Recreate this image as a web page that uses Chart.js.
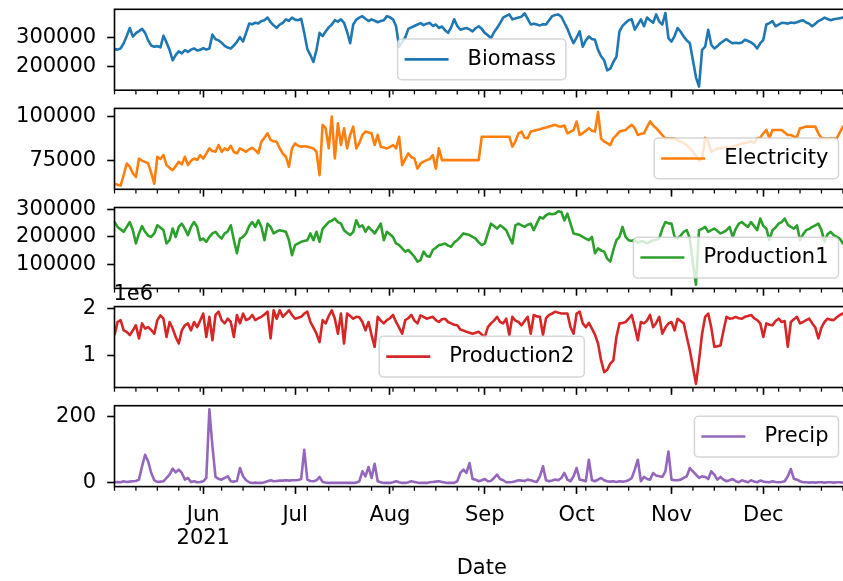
<!DOCTYPE html>
<html>
<head>
<meta charset="utf-8">
<script src="https://cdn.jsdelivr.net/npm/chart.js@4.4.1/dist/chart.umd.min.js"></script>
<style>
  html, body { margin: 0; padding: 0; background: #fff; overflow: hidden; }
  #wrap { position: relative; width: 843px; height: 581px; overflow: hidden; background: #fff; }
  #wrap canvas { position: absolute; left: 0; }
</style>
</head>
<body>
<div id="wrap"></div>
<script>
// daily index 0 = 2021-05-03 (Monday) ... 240 = 2021-12-29
const dayCount = 241;
const days = Array.from({ length: dayCount }, (_, i) => i);
const monthTicks = [29, 59, 90, 121, 151, 182, 212];
const monthLabels = [['Jun', '2021'], 'Jul', 'Aug', 'Sep', 'Oct', 'Nov', 'Dec'];
const weekTicks = days.filter(d => d % 7 === 0); // Mondays

// values in thousands
const biomassK = [
  260,258,262,280,305,333,303,315,322,330,
  316,290,272,268,270,266,306,283,257,221,
  239,252,245,256,250,258,262,255,257,263,
  258,262,310,294,290,282,271,265,262,272,
  285,301,286,316,348,346,351,349,357,360,
  369,353,342,333,345,351,363,358,369,362,
  360,365,316,260,239,215,257,316,305,321,
  335,345,360,355,363,351,320,280,345,362,
  369,374,365,357,363,358,353,357,360,374,
  370,363,339,268,285,300,330,335,340,345,
  350,343,348,351,340,345,333,338,325,316,
  335,363,340,327,330,333,328,321,332,339,
  330,316,308,298,318,333,350,369,375,380,
  363,366,369,372,384,365,345,348,345,342,
  346,345,360,374,378,380,372,351,330,303,
  280,300,321,268,290,303,295,292,257,235,
  221,186,192,215,233,321,340,351,360,363,
  327,345,363,339,369,360,351,380,355,345,
  385,298,286,305,333,320,303,290,280,221,
  162,130,257,268,327,275,262,270,280,288,
  294,286,280,282,280,283,292,288,283,275,
  262,280,292,345,350,357,339,345,351,350,
  348,352,350,353,357,360,352,348,339,348,
  357,362,369,364,360,363,365,367,369,366,
  370
];
const electricityK = [
  62,61.5,61,67,73.5,71.6,68,65.9,76.3,75,
  74.4,73.5,68,62.1,77.3,76,78.2,72.6,71,69.7,
  72,74.4,73,77.3,72.6,75,76.3,75.5,78.2,76.3,
  79,82,80.5,80.1,83.9,80.1,82,81,83.5,80,
  79.2,82,81,80.1,81.5,82.4,81,79.2,85.8,88,
  90.5,86.8,86,85.8,82,79,77.3,71.6,82,84.8,
  83.5,83,83.2,83,82.5,82,80.1,66.9,95.3,93.4,
  82,100,76.3,96.2,83.9,93.4,82,89.6,94.3,82,
  85,89.6,91.5,91,90.5,83.9,89.6,83,82.5,82,
  82.8,83.9,82,88.6,72.6,76,79.2,77,76.3,70.6,
  73.5,74.5,75.4,76,78.2,70.6,82,75.4,75.4,75.4,
  75.4,75.4,75.4,75.4,75.4,75.4,75.4,75.4,75.4,75.4,
  88.6,88.6,88.6,88.6,88.6,88.6,88.6,88.6,88.6,88.6,
  83,86,90.5,91.5,88,87.7,91.5,92,92.4,92.8,
  93.4,93.8,94.3,94.8,95.3,94.5,94.3,94.9,90.5,91.5,
  92.4,97.2,89.6,90.5,92,93.4,92,91.5,102.5,87.7,
  85.8,85,83.9,87.7,89.5,91.5,92,92.4,94,95.3,
  93.4,89.6,90.2,90.5,94,97.2,95,93.4,91.5,89.5,
  87.7,87.7,87.7,87.5,86.5,85.8,85,83.9,82,80,
  78,75,76,88,86,80,81,82,82,82.5,
  83,82,83,83.5,84,85,85,85.5,86,85,
  87.7,88,90.5,92.4,87.7,92.4,92.4,92.4,92.4,91,
  89.6,89.6,88.6,88.6,93.4,93.8,94.3,94.3,94.3,94.3,
  90.5,87.7,87.7,87.7,87.7,87.7,87.7,91,94.3,94.5,
  94
];
const production1K = [
  255,237,228,219,237,255,225,176,213,240,
  219,205,200,213,243,235,225,176,188,231,
  200,237,249,230,207,237,255,237,188,194,
  182,200,213,219,205,194,213,220,243,190,
  140,194,200,213,240,255,237,261,237,188,
  249,237,213,220,225,222,219,188,133,170,
  176,182,185,188,213,188,219,182,230,243,
  255,260,268,255,249,225,215,207,219,261,
  237,243,219,237,225,213,230,249,188,219,
  210,200,176,170,158,146,152,140,127,109,
  115,146,130,127,152,160,170,172,176,168,
  164,180,188,200,213,210,207,200,194,180,
  170,176,213,249,240,231,243,235,225,200,
  176,243,249,243,237,245,249,225,250,273,
  268,280,286,284,286,295,292,261,286,249,
  213,210,207,200,194,188,200,140,158,150,
  146,120,109,152,188,200,237,200,188,185,
  190,178,185,182,176,182,188,190,194,230,
  255,250,249,200,194,205,219,225,194,103,
  24,225,230,237,219,225,231,222,213,218,
  225,237,200,230,249,255,245,237,255,240,
  225,268,240,231,188,225,235,249,255,268,
  245,237,231,243,188,210,225,230,237,243,
  249,225,182,210,219,207,200,194,176,185,
  190
];
// values in millions
const production2M = [
  1.44,1.72,1.76,1.54,1.51,1.44,1.54,1.65,1.37,1.69,
  1.58,1.61,1.55,1.47,1.76,1.86,1.79,1.40,1.72,1.58,
  1.40,1.26,1.54,1.65,1.69,1.54,1.72,1.61,1.75,1.90,
  1.40,1.83,1.33,1.87,1.94,1.76,1.69,1.79,1.72,1.40,
  1.87,1.69,1.90,1.76,1.79,1.87,1.76,1.80,1.83,1.88,
  1.94,1.37,1.97,1.79,1.97,1.83,1.90,1.97,1.87,1.79,
  1.81,1.83,1.90,1.94,1.72,1.60,1.47,1.29,1.76,1.69,
  1.85,1.97,1.79,1.47,1.90,1.26,1.90,1.85,1.79,1.83,
  1.82,1.72,1.54,1.72,1.44,1.19,1.83,1.75,1.69,1.76,
  1.80,1.87,1.72,1.60,1.47,1.76,1.80,1.87,1.75,1.69,
  1.86,1.83,1.79,1.81,1.83,1.76,1.72,1.78,1.79,1.72,
  1.69,1.66,1.65,1.56,1.54,1.51,1.49,1.47,1.49,1.51,
  1.45,1.40,1.61,1.69,1.75,1.83,1.72,1.69,1.79,1.44,
  1.83,1.75,1.72,1.65,1.74,1.83,1.47,1.87,1.84,1.83,
  1.44,1.80,1.87,1.90,1.94,1.92,1.90,1.90,1.90,1.61,
  1.47,1.90,1.94,1.69,1.61,1.70,1.58,1.45,1.26,0.90,
  0.65,0.70,0.83,0.90,1.40,1.69,1.70,1.72,1.79,1.87,
  1.61,1.33,1.72,1.69,1.75,1.87,1.61,1.70,1.83,1.47,
  1.60,1.69,1.72,1.54,1.79,1.74,1.69,1.40,1.11,0.76,
  0.40,0.90,1.47,1.83,1.90,1.60,1.19,1.20,1.22,1.54,
  1.83,1.79,1.80,1.83,1.80,1.79,1.83,1.85,1.87,1.80,
  1.76,1.69,1.40,1.69,1.66,1.65,1.74,1.79,1.72,1.74,
  1.19,1.72,1.78,1.83,1.69,1.72,1.76,1.79,1.69,1.60,
  1.37,1.60,1.72,1.79,1.77,1.76,1.82,1.87,1.90,1.88,
  1.92
];
const precip = [
  2,3,2,5,3,4,5,6,10,50,
  85,65,30,8,3,4,5,15,25,43,
  32,40,30,10,15,3,5,2,3,5,
  15,222,110,18,12,10,15,20,5,4,
  6,45,20,8,2,0,1,0,0,2,
  5,8,5,6,7,7,8,7,8,8,
  9,12,100,10,6,5,8,18,3,1,
  0,0,0,0,0,0,0,0,0,1,
  5,35,20,48,15,58,5,2,0,0,
  0,2,5,2,0,0,2,5,3,1,
  0,0,0,2,3,4,5,3,1,0,
  0,0,5,30,40,30,60,12,10,5,
  8,12,5,6,15,25,12,8,2,2,
  3,5,8,7,6,10,8,5,3,20,
  50,8,5,7,10,8,15,30,10,5,
  20,45,10,8,5,70,8,5,10,15,
  8,5,4,5,3,5,4,5,8,15,
  40,70,5,18,12,10,30,22,20,18,
  35,95,10,8,8,10,15,20,45,35,
  25,15,20,18,12,35,25,10,18,10,
  5,8,12,5,2,8,5,2,8,4,
  2,7,4,3,2,5,3,2,3,5,
  20,42,12,10,5,2,2,1,2,1,
  2,2,1,2,2,1,2,2,1,2,
  2
];

const biomassTicks = [200000, 300000];
const electricityTicks = [75000, 100000];
const production1Ticks = [100000, 200000, 300000];
const production2Ticks = [1000000, 2000000];
const production2TickLabels = ['1', '2'];
const precipTicks = [0, 200];

const FONT_FAMILY = "'DejaVu Sans', sans-serif";
const FS = 21;
Chart.defaults.font.family = FONT_FAMILY;
Chart.defaults.color = '#000';

const panels = [
  { name: 'Biomass', color: '#1f77b4', values: biomassK.map(v => v * 1000), ticks: biomassTicks, loc: 'lower center' },
  { name: 'Electricity', color: '#ff7f0e', values: electricityK.map(v => v * 1000), ticks: electricityTicks, loc: 'lower right' },
  { name: 'Production1', color: '#2ca02c', values: production1K.map(v => v * 1000), ticks: production1Ticks, loc: 'lower right' },
  { name: 'Production2', color: '#d62728', values: production2M.map(v => v * 1e6), ticks: production2Ticks,
    tickLabels: production2TickLabels, offsetText: '1e6', loc: 'lower center' },
  { name: 'Precip', color: '#9467bd', values: precip, ticks: precipTicks, loc: 'upper right' },
];

// layout (px)
const CANVAS_W = 860, AX_LEFT = 114.5, AX_RIGHT = 849;
const AX_TOP0 = 9.3, AX_STEP = 99.1, AX_H = 80.9;

function legendBox(chart, o) {
  const { ctx, chartArea: a } = chart;
  ctx.save();
  ctx.font = FS + 'px ' + FONT_FAMILY;
  const w = ctx.measureText(o.name).width + 80, h = 40.7, pad = 10.5, r = 4.2;
  const x = o.loc.endsWith('right') ? a.right - pad - w : (a.left + a.right) / 2 - w / 2;
  const y = o.loc.startsWith('upper') ? a.top + pad : a.bottom - pad - h;
  ctx.beginPath();
  ctx.moveTo(x + r, y);
  ctx.arcTo(x + w, y, x + w, y + h, r);
  ctx.arcTo(x + w, y + h, x, y + h, r);
  ctx.arcTo(x, y + h, x, y, r);
  ctx.arcTo(x, y, x + w, y, r);
  ctx.closePath();
  ctx.fillStyle = 'rgba(255,255,255,0.8)';
  ctx.fill();
  ctx.strokeStyle = 'rgba(204,204,204,0.8)';
  ctx.lineWidth = 1.5;
  ctx.stroke();
  ctx.beginPath();
  ctx.moveTo(x + 7, y + h / 2);
  ctx.lineTo(x + 51, y + h / 2);
  ctx.strokeStyle = o.color;
  ctx.lineWidth = 2.6;
  ctx.stroke();
  ctx.fillStyle = '#000';
  ctx.textBaseline = 'middle';
  ctx.textAlign = 'left';
  ctx.fillText(o.name, x + 70, y + h / 2);
  ctx.restore();
}

const mplLook = {
  id: 'mplLook',
  afterDatasetsDraw(chart, args, o) {
    const { ctx, chartArea: a, scales } = chart;
    // minor (weekly) ticks
    ctx.save();
    ctx.strokeStyle = '#000';
    ctx.lineWidth = 1.25;
    weekTicks.forEach(d => {
      const px = scales.x.getPixelForValue(d);
      ctx.beginPath();
      ctx.moveTo(px, a.bottom);
      ctx.lineTo(px, a.bottom + 4.2);
      ctx.stroke();
    });
    ctx.restore();
    legendBox(chart, o);
    if (o.offsetText) {
      ctx.save();
      ctx.font = FS + 'px ' + FONT_FAMILY;
      ctx.fillStyle = '#000';
      ctx.textAlign = 'left';
      ctx.textBaseline = 'alphabetic';
      ctx.fillText(o.offsetText, a.left - 1, a.top - 6.5);
      ctx.restore();
    }
  },
  afterDraw(chart) {
    const { ctx, chartArea: a } = chart;
    ctx.save();
    ctx.strokeStyle = '#000';
    ctx.lineWidth = 1.6;
    ctx.strokeRect(a.left, a.top, a.right - a.left, a.bottom - a.top);
    ctx.restore();
  }
};

const wrap = document.getElementById('wrap');
panels.forEach((p, i) => {
  const last = i === panels.length - 1;
  const T = AX_TOP0 + AX_STEP * i;
  const cTop = Math.round(T - 25);
  const padTop = T - cTop;
  const cH = last ? 581 - cTop : Math.ceil(padTop + AX_H + 10);
  const xH = cH - padTop - AX_H;

  const lo = Math.min(...p.values), hi = Math.max(...p.values);
  const m = (hi - lo) * 0.05;

  const canvas = document.createElement('canvas');
  canvas.width = CANVAS_W;
  canvas.height = cH;
  canvas.style.top = cTop + 'px';
  canvas.style.width = CANVAS_W + 'px';
  canvas.style.height = cH + 'px';
  wrap.appendChild(canvas);

  new Chart(canvas, {
    type: 'line',
    data: {
      labels: days,
      datasets: [{
        label: p.name,
        data: p.values,
        borderColor: p.color,
        borderWidth: 2.6,
        borderJoinStyle: 'round',
        pointRadius: 0,
        tension: 0,
        fill: false,
      }],
    },
    options: {
      responsive: false,
      maintainAspectRatio: false,
      devicePixelRatio: 1,
      animation: false,
      events: [],
      layout: { autoPadding: false, padding: { top: padTop, right: CANVAS_W - AX_RIGHT, left: 0, bottom: 0 } },
      plugins: {
        legend: { display: false },
        tooltip: { enabled: false },
        mplLook: { name: p.name, color: p.color, loc: p.loc, offsetText: p.offsetText },
      },
      scales: {
        x: {
          type: 'linear',
          min: 0,
          max: dayCount - 1,
          afterBuildTicks: s => { s.ticks = monthTicks.map(v => ({ value: v })); },
          afterFit: s => { s.height = xH; s.paddingLeft = 0; s.paddingRight = 0; },
          border: { display: false },
          grid: { drawOnChartArea: false, drawTicks: true, tickLength: 7.3, tickWidth: 1.6, tickColor: '#000' },
          ticks: {
            display: last,
            autoSkip: false,
            maxRotation: 0,
            padding: 10.7,
            color: '#000',
            font: { size: FS, lineHeight: 1.08 },
            callback: (v, idx) => monthLabels[idx],
          },
          title: {
            display: last,
            text: 'Date',
            color: '#000',
            font: { size: FS },
            padding: { top: 0, bottom: 0 },
          },
        },
        y: {
          min: lo - m,
          max: hi + m,
          afterBuildTicks: s => { s.ticks = p.ticks.map(v => ({ value: v })); },
          afterFit: s => { s.width = AX_LEFT; s.paddingTop = 0; s.paddingBottom = 0; },
          border: { display: false },
          grid: { drawOnChartArea: false, drawTicks: true, tickLength: 7.3, tickWidth: 1.6, tickColor: '#000' },
          ticks: {
            padding: 11,
            color: '#000',
            font: { size: FS },
            callback: (v, idx) => p.tickLabels ? p.tickLabels[idx] : String(v),
          },
        },
      },
    },
    plugins: [mplLook],
  });
});
</script>
</body>
</html>
